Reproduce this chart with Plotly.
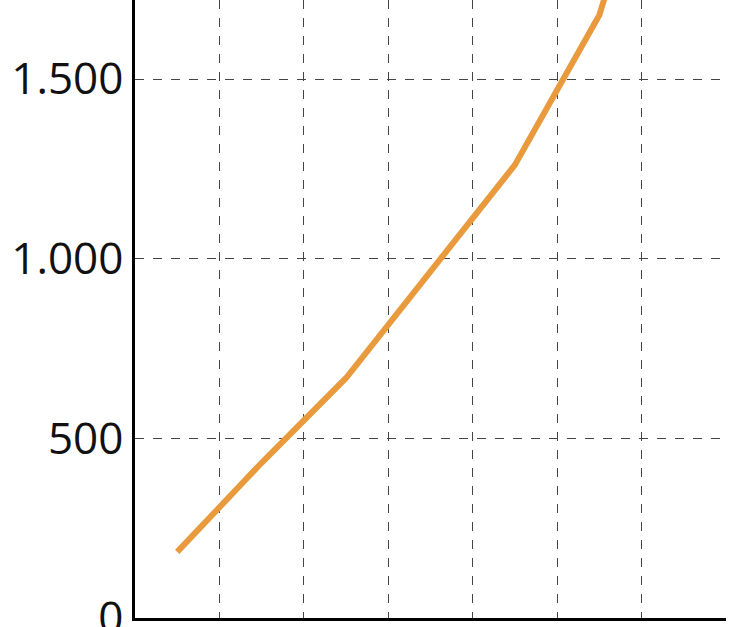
import plotly.graph_objects as go

# positions between gridlines (half-steps) and values
x_pos = [0.5, 1.5, 2.5, 3.5, 4.5, 5.5, 6.5]
values = [184, 432, 668, 964, 1261, 1678, 2450]

y_ticks = [0, 500, 1000, 1500]
y_labels = ['0', '500', '1.000', '1.500']

fig = go.Figure(data=[
    go.Scatter(x=x_pos, y=values, mode='lines',
               line=dict(color='#E99A3D', width=6),
               cliponaxis=True, showlegend=False)
])

fig.update_layout(width=740, height=627,
                  margin=dict(l=135, r=14, t=0, b=9),
                  paper_bgcolor='white', plot_bgcolor='white',
                  font=dict(family='Open Sans', color='#111'),
                  xaxis=dict(range=[0, 7], dtick=1, tick0=0,
                             showticklabels=False, ticks='',
                             showgrid=True, gridcolor='#444', griddash='dash', gridwidth=1,
                             showline=True, linecolor='black', linewidth=2.5,
                             zeroline=False, automargin=False),
                  yaxis=dict(range=[0, 1720], tickvals=y_ticks, ticktext=y_labels,
                             tickfont=dict(size=44), ticks='', ticklabelstandoff=0,
                             ticklabeloverflow='allow', automargin=False,
                             showgrid=True, gridcolor='#444', griddash='dash', gridwidth=1,
                             showline=True, linecolor='black', linewidth=2.5,
                             zeroline=False))

# drop the page's default body margin so the figure sits at the corner
fig.write_html("out.html", config={'displayModeBar': False},
               post_script="document.body.style.margin='0';")
